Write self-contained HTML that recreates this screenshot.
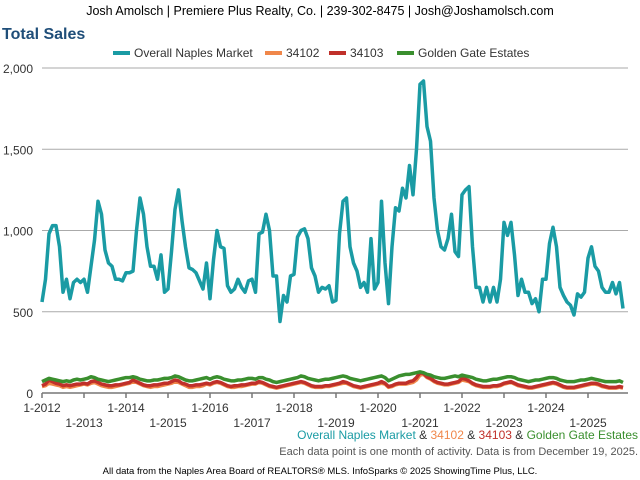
<!DOCTYPE html>
<html><head><meta charset="utf-8"><style>
body{margin:0;background:#fff;font-family:"Liberation Sans",Arial,sans-serif}
#w{position:relative;width:640px;height:480px;overflow:hidden}
</style></head><body>
<div id="w">
<svg id="s" width="640" height="480">
<text x="320" y="15" font-size="12.5" text-anchor="middle" fill="#000">Josh Amolsch | Premiere Plus Realty, Co. | 239-302-8475 | Josh@Joshamolsch.com</text>
<text x="2" y="39" font-size="16" font-weight="bold" fill="#1f4e79">Total Sales</text>
<g font-size="12" fill="#333">
<g><line x1="113" y1="53" x2="130" y2="53" stroke="#1a9ba4" stroke-width="4"/><text x="134" y="57">Overall Naples Market</text></g>
<g><line x1="265" y1="53" x2="282" y2="53" stroke="#f0874a" stroke-width="4"/><text x="286" y="57">34102</text></g>
<g><line x1="329" y1="53" x2="346" y2="53" stroke="#c0302a" stroke-width="4"/><text x="350" y="57">34103</text></g>
<g><line x1="397" y1="53" x2="414" y2="53" stroke="#3a8f2e" stroke-width="4"/><text x="418" y="57">Golden Gate Estates</text></g>
</g>
<g id="grid"></g><g id="axes"></g><g id="series"></g>
<text x="638" y="439" font-size="12" text-anchor="end"><tspan fill="#1a9ba4">Overall Naples Market</tspan><tspan fill="#333"> &amp; </tspan><tspan fill="#f0874a">34102</tspan><tspan fill="#333"> &amp; </tspan><tspan fill="#c0302a">34103</tspan><tspan fill="#333"> &amp; </tspan><tspan fill="#3a8f2e">Golden Gate Estates</tspan></text>
<text x="638" y="455" font-size="11" text-anchor="end" fill="#555">Each data point is one month of activity. Data is from December 19, 2025.</text>
<text x="320" y="474" font-size="9.5" text-anchor="middle" fill="#000">All data from the Naples Area Board of REALTORS® MLS. InfoSparks © 2025 ShowingTime Plus, LLC.</text>
</svg></div>
<script>
const yTicks=[0,500,1000,1500,2000];
const yTickLabels=["0","500","1,000","1,500","2,000"];
const xYears=["1-2012","1-2013","1-2014","1-2015","1-2016","1-2017","1-2018","1-2019","1-2020","1-2021","1-2022","1-2023","1-2024","1-2025"];
const overall=[560,700,980,1030,1030,900,620,700,580,680,700,680,
700,620,780,940,1180,1100,880,800,780,700,700,690,
740,740,750,1000,1200,1100,900,780,780,700,850,620,
640,870,1130,1250,1060,900,770,760,740,690,640,800,
580,820,1000,900,890,660,620,640,700,650,620,690,
700,620,980,990,1100,1000,720,720,440,600,560,720,
730,960,1000,1010,950,770,720,620,650,640,660,560,
570,980,1180,1200,900,800,750,650,680,620,950,640,
680,1180,800,550,900,1140,1120,1260,1200,1400,1220,1500,
1900,1920,1640,1550,1200,1000,900,880,950,1100,870,840,
1220,1250,1270,900,650,650,560,650,560,650,560,700,
1050,970,1050,850,600,700,620,620,550,580,500,700,
700,920,1020,900,650,600,560,540,480,610,590,620,
830,900,780,750,650,620,620,680,610,680,520];
const zip34102=[40,45,60,55,50,45,35,40,35,40,45,50,
55,50,60,65,55,45,40,35,35,40,45,50,
55,60,70,65,55,45,40,35,40,40,45,50,
55,60,70,65,55,45,35,35,40,40,45,55,
50,60,65,60,50,40,35,35,40,40,45,50,
55,55,65,60,50,40,35,30,35,40,45,50,
55,60,65,60,50,40,35,35,35,40,40,45,
50,55,60,60,50,40,35,30,35,40,45,50,
55,60,55,35,40,50,55,55,55,60,65,80,
110,115,95,85,70,60,55,50,50,55,60,65,
80,75,70,55,45,40,35,35,35,40,40,45,
55,60,65,55,45,40,35,30,30,35,40,45,
50,55,60,55,45,35,30,30,30,35,40,45,
50,55,55,50,40,35,30,30,30,35,30];
const zip34103=[45,55,80,70,60,55,45,50,45,50,55,55,
60,55,70,75,65,55,50,45,45,50,50,55,
60,65,80,70,60,50,45,45,50,50,55,60,
60,70,80,75,60,55,45,45,50,50,55,60,
55,65,70,65,55,45,40,45,45,50,50,55,
60,60,70,65,55,45,40,35,40,45,50,55,
60,65,70,65,55,45,40,40,40,45,45,50,
55,60,70,65,55,45,40,35,40,45,50,55,
60,70,60,40,45,55,60,60,60,70,75,95,
125,120,100,90,75,65,60,55,55,60,65,70,
90,85,75,60,50,45,40,40,40,45,45,50,
60,65,70,60,50,45,40,35,35,40,45,50,
55,60,65,60,50,40,35,35,35,40,45,50,
55,60,60,55,45,40,35,35,35,40,35];
const goldenGate=[70,80,90,85,80,75,70,75,70,80,85,80,
85,90,100,95,85,80,75,70,75,80,85,90,
95,95,100,95,85,80,75,75,80,80,85,90,
90,95,105,100,90,80,75,75,80,85,90,95,
85,95,100,95,85,80,75,75,80,80,85,90,
90,85,95,95,85,80,70,65,70,75,80,85,
90,95,105,100,90,85,80,75,80,85,85,90,
95,100,105,100,90,85,80,75,80,85,90,95,
100,105,95,75,85,95,105,110,115,115,120,125,
130,125,115,110,100,95,90,90,95,100,105,100,
110,105,100,95,85,80,75,75,80,85,85,90,
95,100,100,95,85,80,75,70,75,80,80,85,
90,95,95,90,80,75,70,70,70,75,80,80,
85,90,85,80,75,70,70,70,70,75,65];
const X0=42,PXM=3.5,Y0=393,YS=325/2000;
const sx=i=>X0+i*PXM, sy=v=>Y0-v*YS;
const NS="http://www.w3.org/2000/svg";
function mk(t,a,p){const e=document.createElementNS(NS,t);for(const k in a)e.setAttribute(k,a[k]);p.appendChild(e);return e;}
const grid=document.getElementById('grid'),axes=document.getElementById('axes'),ser=document.getElementById('series');
yTicks.forEach((v,i)=>{
 if(v>0){const l=mk('line',{x1:X0,x2:628,y1:sy(v),y2:sy(v),stroke:'#aaa','stroke-width':1},grid);
 
 }
 const t=mk('text',{x:33,y:sy(v)+5,'font-size':12,'text-anchor':'end',fill:'#333'},axes);t.textContent=yTickLabels[i];
 
 
});
const ax=mk('line',{x1:X0,x2:628,y1:Y0,y2:Y0,stroke:'#777','stroke-width':1.5},axes);


xYears.forEach((lab,i)=>{
 const x=sx(i*12);
 mk('line',{x1:x,x2:x,y1:Y0,y2:Y0+5,stroke:'#777','stroke-width':1.5},axes);
 const t=mk('text',{x:x,y:i%2?427:412,'font-size':12,'text-anchor':'middle',fill:'#333'},axes);t.textContent=lab;
 
 
});
function line(arr,col,name){
 const p=mk('polyline',{points:arr.map((v,i)=>sx(i)+','+sy(v)).join(' '),fill:'none',stroke:col,'stroke-width':3.5,'stroke-linejoin':'round'},ser);
 
 
}
line(zip34102,'#f0874a','line-34102');
line(zip34103,'#c0302a','line-34103');
line(goldenGate,'#3a8f2e','line-golden-gate');
line(overall,'#1a9ba4','line-overall-naples');
</script></body></html>
